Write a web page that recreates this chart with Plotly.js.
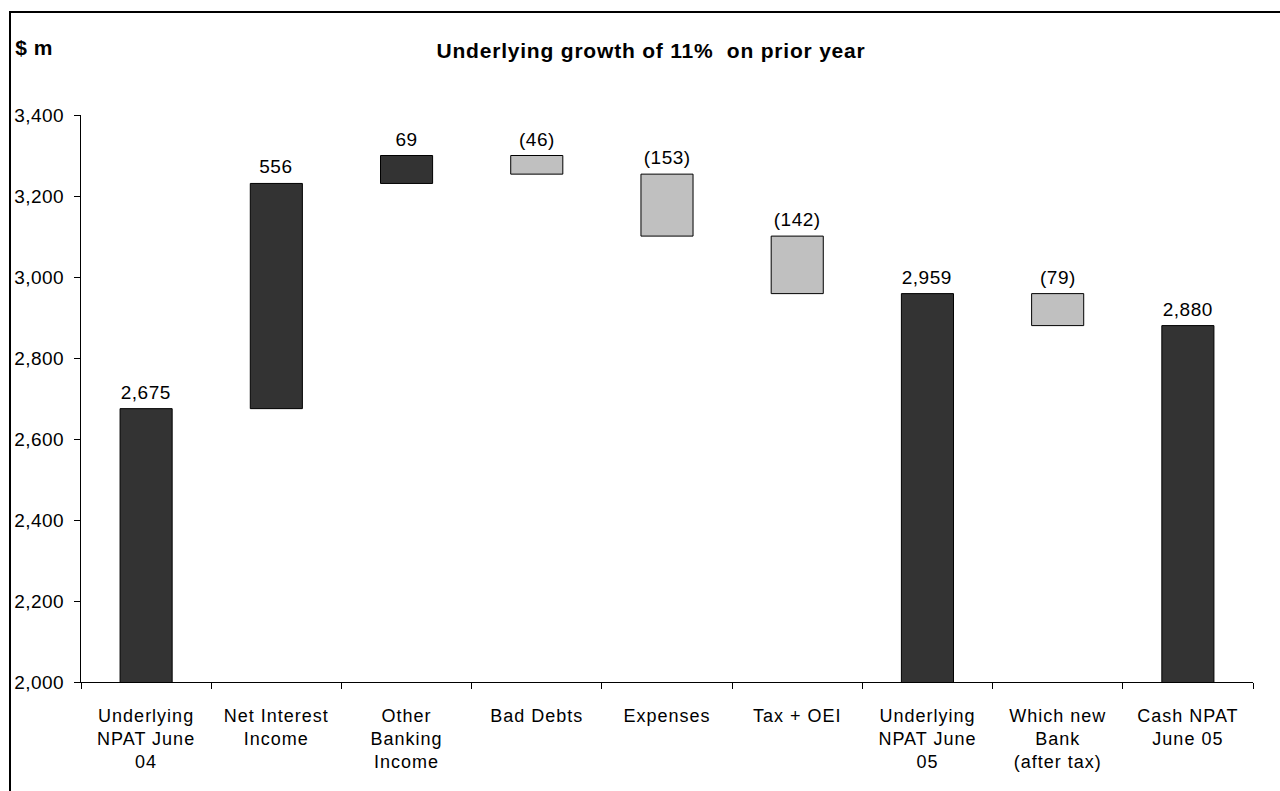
<!DOCTYPE html>
<html>
<head>
<meta charset="utf-8">
<script src="https://cdn.plot.ly/plotly-3.0.1.min.js"></script>
<style>
  html, body { margin: 0; padding: 0; background: #fff; }
  #chart { width: 1280px; height: 791px; }
  #frame { position: absolute; left: 9px; top: 11px; width: 1290px; height: 800px;
           border-left: 2px solid #000; border-top: 2px solid #000; pointer-events: none; }
  #chart .xtick text { letter-spacing: 1px; }
  #chart .ytick text { letter-spacing: 0.5px; }
  #chart text.gtitle { letter-spacing: 0.8px; }
  #chart text.annotation-text { letter-spacing: 0.5px; }
</style>
</head>
<body>
<div id="chart"></div>
<div id="frame"></div>
<script>
// ---- data ----
const categories = [
  "Underlying<br>NPAT June<br>04",
  "Net Interest<br>Income",
  "Other<br>Banking<br>Income",
  "Bad Debts",
  "Expenses",
  "Tax + OEI",
  "Underlying<br>NPAT June<br>05",
  "Which new<br>Bank<br>(after tax)",
  "Cash NPAT<br>June 05"
];
const measures = ["absolute","relative","relative","relative","relative","relative","total","relative","total"];
const amounts  = [2675, 556, 69, -46, -153, -142, 2959, -79, 2880];
const valueLabels = ["2,675","556","69","(46)","(153)","(142)","2,959","(79)","2,880"];

// ---- build bars ----
const darkColor = "#333333", lightColor = "#c0c0c0";
let running = 0;
const bases = [], heights = [], colors = [], tops = [];
for (let i = 0; i < amounts.length; i++) {
  const m = measures[i], v = amounts[i];
  if (m === "absolute" || m === "total") {
    running = v;
    bases.push(0); heights.push(v); colors.push(darkColor); tops.push(v);
  } else {
    const start = running, end = running + v;
    bases.push(Math.min(start, end));
    heights.push(Math.abs(v));
    colors.push(v >= 0 ? darkColor : lightColor);
    tops.push(Math.max(start, end));
    running = end;
  }
}

const fontFam = "Liberation Sans, Arial, sans-serif";
const trace = {
  type: "bar",
  x: categories,
  y: heights,
  base: bases,
  width: 0.4,
  marker: { color: colors, line: { color: "#000", width: 1 } },
  hoverinfo: "skip",
  cliponaxis: true
};

const annotations = categories.map((c, i) => ({
  x: c, y: tops[i], xref: "x", yref: "y",
  text: valueLabels[i], showarrow: false,
  yanchor: "bottom", yshift: 4,
  font: { family: fontFam, size: 19, color: "#000" }
}));
annotations.push({
  xref: "paper", yref: "paper", x: (14 - 81) / 1172, y: 1 + (115 - 48) / 567,
  xanchor: "left", yanchor: "middle", showarrow: false,
  text: "<b>$ m</b>", font: { family: fontFam, size: 21, color: "#000" }
});

const layout = {
  width: 1280, height: 791,
  margin: { l: 81, r: 27, t: 115, b: 109, pad: 0 },
  paper_bgcolor: "rgba(0,0,0,0)",
  plot_bgcolor: "#fff",
  showlegend: false,
  font: { family: fontFam, size: 18, color: "#000" },
  title: {
    text: "<b>Underlying growth of 11%  on prior year</b>",
    x: 651 / 1280, xanchor: "center", y: 1 - 51 / 791, yanchor: "middle",
    font: { family: fontFam, size: 21, color: "#000" }
  },
  xaxis: {
    type: "category",
    showline: true, linecolor: "#000", linewidth: 1,
    ticks: "outside", tickson: "boundaries", ticklen: 6, tickcolor: "#000", tickwidth: 1,
    ticklabelstandoff: 17,
    showgrid: false, zeroline: false,
    tickfont: { family: fontFam, size: 18, color: "#000" },
    fixedrange: true
  },
  yaxis: {
    range: [2000, 3400], dtick: 200, tick0: 2000,
    tickformat: ",d",
    showline: true, linecolor: "#000", linewidth: 1,
    ticks: "outside", ticklen: 6, tickcolor: "#000", tickwidth: 1,
    ticklabelstandoff: 6,
    showgrid: false, zeroline: false,
    tickfont: { family: fontFam, size: 19, color: "#000" },
    fixedrange: true
  },
  annotations: annotations,
  bargap: 0.6
};

Plotly.newPlot("chart", [trace], layout, { displayModeBar: false, staticPlot: true });
</script>
</body>
</html>
